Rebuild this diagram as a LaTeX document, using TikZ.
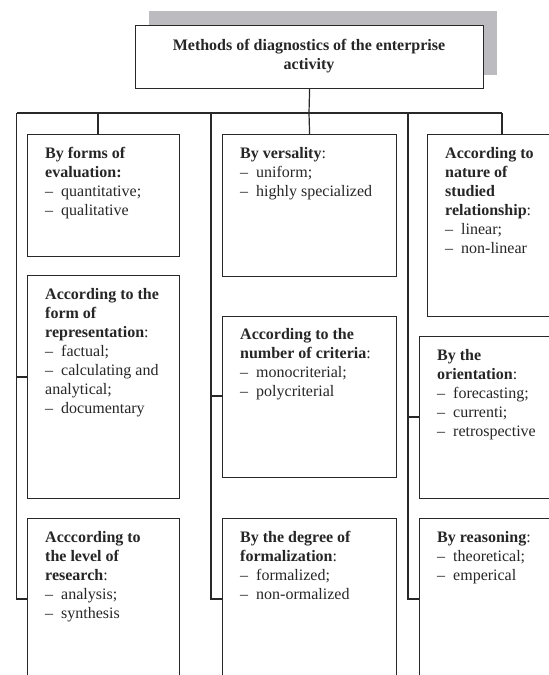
\documentclass[tikz,border=0pt]{standalone}
\usepackage{fontspec}
\setmainfont{Liberation Serif}
\newcommand\itm{\makebox[16pt][l]{–}}
\definecolor{shadowgray}{RGB}{188,188,192}
\definecolor{linec}{RGB}{40,40,40}
\begin{document}
\begin{tikzpicture}[x=1pt,y=-1pt,
  box/.style={draw=linec, line width=1.2pt, fill=white, anchor=north west, inner sep=0pt},
  txt/.style={anchor=north west, align=left, inner sep=0pt, font=\fontsize{16}{19}\selectfont, text=black!85},
  ln/.style={draw=linec, line width=1.2pt}]
\useasboundingbox (0,0) rectangle (549,675);
\clip (0,0) rectangle (549,675);
% title
\node[anchor=north west, fill=shadowgray, minimum width=347.5pt, minimum height=64pt, inner sep=0pt] (shadow) at (149,10.5) {};
\node[box, minimum width=348pt, minimum height=63.5pt] (title) at (135,24.5) {};
\node[txt, anchor=north, align=center] (titletxt) at (309,37.2) {\strut\textbf{Methods of diagnostics of the enterprise}\\\textbf{activity}};
% boxes
\node[box, minimum width=152pt, minimum height=122pt] (c1b1) at (27,134) {};
\node[box, minimum width=152pt, minimum height=223pt] (c1b2) at (27,275) {};
\node[box, minimum width=152pt, minimum height=200pt] (c1b3) at (27,518) {};
\node[box, minimum width=174pt, minimum height=142pt] (c2b1) at (222,134) {};
\node[box, minimum width=174pt, minimum height=161pt] (c2b2) at (222,316) {};
\node[box, minimum width=174pt, minimum height=200pt] (c2b3) at (222,518) {};
\node[box, minimum width=140pt, minimum height=182pt] (c3b1) at (427,134) {};
\node[box, minimum width=150pt, minimum height=162pt] (c3b2) at (419,336) {};
\node[box, minimum width=150pt, minimum height=200pt] (c3b3) at (419,518) {};
% texts
\node[txt] (t11) at (45,144.7) {\strut\textbf{By forms of}\\\textbf{evaluation:}\\\itm quantitative;\\\itm qualitative};
\node[txt] (t12) at (45,285.7) {\strut\textbf{According to the}\\\textbf{form of}\\\textbf{representation}:\\\itm factual;\\\itm calculating and\\analytical;\\\itm documentary};
\node[txt] (t13) at (45,528.7) {\strut\textbf{Acccording to}\\\textbf{the level of}\\\textbf{research}:\\\itm analysis;\\\itm synthesis};
\node[txt] (t21) at (240,144.7) {\strut\textbf{By versality}:\\\itm uniform;\\\itm highly specialized};
\node[txt] (t22) at (240,326.2) {\strut\textbf{According to the}\\\textbf{number of criteria}:\\\itm monocriterial;\\\itm polycriterial};
\node[txt] (t23) at (240,528.7) {\strut\textbf{By the degree of}\\\textbf{formalization}:\\\itm formalized;\\\itm non-ormalized};
\node[txt] (t31) at (445,144.7) {\strut\textbf{According to}\\\textbf{nature of}\\\textbf{studied}\\\textbf{relationship}:\\\itm linear;\\\itm non-linear};
\node[txt] (t32) at (437,346.7) {\strut\textbf{By the}\\\textbf{orientation}:\\\itm forecasting;\\\itm currenti;\\\itm retrospective};
\node[txt] (t33) at (437,528.7) {\strut\textbf{By reasoning}:\\\itm theoretical;\\\itm emperical};
% connectors
\coordinate (bus) at (309,113);
\coordinate (busL) at (16.5,113);
\coordinate (busR) at (502,113);
\coordinate (tr1) at (16.5,599);
\coordinate (tr2t) at (211,113);
\coordinate (tr2) at (211,599);
\coordinate (tr3t) at (408,113);
\coordinate (tr3) at (408,599);
\coordinate (d1) at (98,113);
\coordinate (k12) at (16.5,377);
\coordinate (k22) at (211,396);
\coordinate (k32) at (408,417);
\draw[ln] (title.south) -- (bus);
\draw[ln] (busL) -- (busR);
\draw[ln] (busL) -- (tr1) -- (tr1 -| c1b3.west);
\draw[ln] (tr2t) -- (tr2) -- (tr2 -| c2b3.west);
\draw[ln] (tr3t) -- (tr3) -- (tr3 -| c3b3.west);
\draw[ln] (d1) -- (d1 |- c1b1.north);
\draw[ln] (bus) -- (c2b1.north);
\draw[ln] (busR) -- (busR |- c3b1.north);
\draw[ln] (k12) -- (k12 -| c1b2.west);
\draw[ln] (k22) -- (k22 -| c2b2.west);
\draw[ln] (k32) -- (k32 -| c3b2.west);
\end{tikzpicture}
\end{document}
